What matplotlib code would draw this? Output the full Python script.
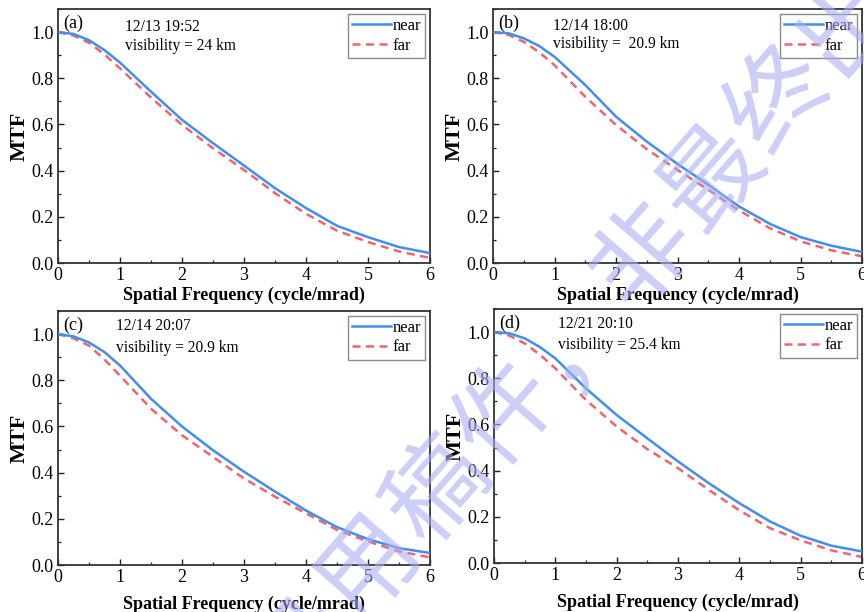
import matplotlib
matplotlib.use("Agg")
import matplotlib.pyplot as plt
import numpy as np
from matplotlib.ticker import MultipleLocator

plt.rcParams['font.family'] = ['Liberation Serif', 'DejaVu Serif']

freq = [0, 0.25, 0.5, 0.75, 1, 1.5, 2, 2.5, 3, 3.5, 4, 4.5, 5, 5.5, 6]

near_a = [1.0, 0.992, 0.965, 0.922, 0.868, 0.742, 0.620, 0.519, 0.422, 0.324, 0.238, 0.161, 0.112, 0.069, 0.043]
far_a  = [1.0, 0.985, 0.954, 0.903, 0.843, 0.717, 0.598, 0.497, 0.403, 0.303, 0.213, 0.140, 0.091, 0.050, 0.022]
near_b = [1.0, 0.995, 0.973, 0.940, 0.893, 0.771, 0.634, 0.526, 0.429, 0.339, 0.245, 0.170, 0.112, 0.075, 0.048]
far_b  = [1.0, 0.988, 0.958, 0.913, 0.857, 0.720, 0.598, 0.493, 0.403, 0.317, 0.228, 0.151, 0.094, 0.055, 0.029]
near_c = [1.0, 0.990, 0.964, 0.922, 0.864, 0.720, 0.600, 0.497, 0.404, 0.318, 0.236, 0.164, 0.112, 0.073, 0.052]
far_c  = [1.0, 0.982, 0.950, 0.890, 0.820, 0.677, 0.562, 0.468, 0.375, 0.296, 0.224, 0.152, 0.102, 0.059, 0.033]
near_d = [1.0, 0.995, 0.973, 0.935, 0.886, 0.756, 0.641, 0.540, 0.440, 0.346, 0.259, 0.180, 0.118, 0.075, 0.050]
far_d  = [1.0, 0.985, 0.951, 0.902, 0.843, 0.706, 0.591, 0.493, 0.411, 0.317, 0.228, 0.151, 0.098, 0.055, 0.026]

panel_labels = ['(a)', '(b)', '(c)', '(d)']
dates = ['12/13 19:52', '12/14 18:00', '12/14 20:07', '12/21 20:10']
visib = ['visibility = 24 km', 'visibility =  20.9 km', 'visibility = 20.9 km', 'visibility = 25.4 km']
near_all = [near_a, near_b, near_c, near_d]
far_all = [far_a, far_b, far_c, far_d]

watermark = '录用稿件，非最终出版稿'

W, H = 864, 612
fig = plt.figure(figsize=(8.64, 6.12), dpi=100)

boxes = [(58, 430, 9, 263), (493, 862, 9, 263), (58, 430, 311, 565), (494, 862, 309, 563)]
text_x = [0.18, 0.163, 0.156, 0.174]
date_y = [0.929, 0.933, 0.941, 0.940]
vis_y = [0.854, 0.862, 0.855, 0.858]
xlab_pad = [2, 2, 7, 7]

blue = '#3f8ef0'
red = '#f0636f'

for i, (l, r, t, b) in enumerate(boxes):
    ax = fig.add_axes([l / W, 1 - b / H, (r - l) / W, (b - t) / H])
    ax.plot(freq, near_all[i], color=blue, lw=1.8, label='near', zorder=3)
    ax.plot(freq, far_all[i], color=red, lw=1.8, ls=(0, (3.2, 2.2)), label='far', zorder=2)
    ax.set_xlim(0, 6)
    ax.set_ylim(0, 1.1)
    ax.xaxis.set_major_locator(MultipleLocator(1))
    ax.xaxis.set_minor_locator(MultipleLocator(0.5))
    ax.yaxis.set_minor_locator(MultipleLocator(0.1))
    ax.set_yticks([0, 0.2, 0.4, 0.6, 0.8, 1.0])
    ax.set_yticklabels(['0.0', '0.2', '0.4', '0.6', '0.8', '1.0'])
    ax.tick_params(which='both', direction='in', labelsize=13, pad=3, color='#222222')
    ax.tick_params(which='major', length=4, width=1.0)
    ax.tick_params(which='minor', length=2.5, width=0.9)
    for s in ax.spines.values():
        s.set_linewidth(1.3)
        s.set_color('#333333')
    ax.set_xlabel('Spatial Frequency (cycle/mrad)', fontsize=13, fontweight='bold', labelpad=xlab_pad[i])
    ax.set_ylabel('MTF', fontsize=16, fontweight='bold', labelpad=1)
    ax.text(0.013, 0.945, panel_labels[i], transform=ax.transAxes, fontsize=13, va='center', ha='left')
    ax.text(text_x[i], date_y[i], dates[i], transform=ax.transAxes, fontsize=11.2, va='center', ha='left')
    ax.text(text_x[i], vis_y[i], visib[i], transform=ax.transAxes, fontsize=11.2, va='center', ha='left')
    leg = ax.legend(loc='upper right', fontsize=12, handlelength=2.3, handletextpad=0.1,
                    borderpad=0.25, labelspacing=0.2, borderaxespad=0.3, fancybox=False,
                    frameon=True, edgecolor='#8a8a8a', framealpha=1)
    leg.get_frame().set_linewidth(1.0)

# watermark, one character at a time along a diagonal
ang = 48.9
dx, dy = np.cos(np.radians(ang)), np.sin(np.radians(ang))
x0, y0, step = 302, 648, 104
for k, ch in enumerate(watermark):
    px = x0 + k * step * dx
    py = y0 - k * step * dy
    fig.text(px / W, 1 - py / H, ch, rotation=ang, rotation_mode='anchor',
             ha='center', va='center', fontsize=72, color='#a9aff3', alpha=0.6,
             family=['Noto Sans CJK SC', 'DejaVu Sans'], zorder=10)

fig.savefig('out.png', dpi=100)
